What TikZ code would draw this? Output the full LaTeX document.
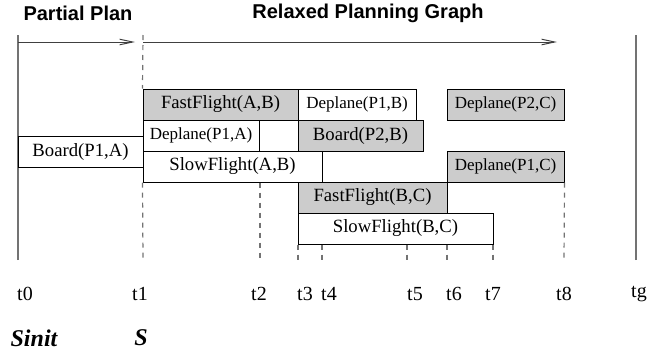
\documentclass[tikz,border=0pt]{standalone}
\usepackage{fontspec}
\setmainfont{Liberation Serif}
\setsansfont{Liberation Sans}
\usepackage{tikz}
\usetikzlibrary{arrows.meta}
\definecolor{actgray}{rgb}{.8,.8,.8}
\definecolor{linegray}{rgb}{.45,.45,.45}

\begin{document}
\begin{tikzpicture}[x=0.5pt,y=-0.5pt,>={Straight Barb[length=6.5pt,width=2.8pt]},
    act/.style={draw,line width=0.5pt,inner sep=0pt,minimum height=15.5pt,font=\fontsize{9.35}{11}\selectfont},
    actgrey/.style={act,fill=actgray},
    actwhite/.style={act,fill=white},
    small/.style={font=\fontsize{8.5}{10}\selectfont},
    timeline/.style={linegray,line width=0.7pt},
    timetick/.style={linegray,line width=0.6pt,dash pattern=on 2.5pt off 2.5pt},
    timelbl/.style={font=\fontsize{10}{12}\selectfont},
    title/.style={font=\sffamily\bfseries\fontsize{10}{12}\selectfont},
    state/.style={font=\bfseries\itshape\fontsize{12}{14}\selectfont}]
    \useasboundingbox (0,0) rectangle (647,354);

    % time points
    \coordinate (top) at (0,35);
    \coordinate (arr) at (0,42);
    \foreach \t/\x in {0/18,1/143,2/260,3/298,4/322,5/407,6/447,7/493,8/564,g/636}
        \coordinate (t\t) at (\x,260);

    % titles
    \node[title] (pplan) at (78,13) {Partial Plan};
    \node[title] (rgraph) at (368,13) {Relaxed Planning Graph};

    % the two spans
    \draw[timeline] (t0) -- (t0 |- top);
    \draw[timeline] (tg) -- (tg |- top);
    \draw[->,black!75,line width=0.5pt] (t0 |- arr) -- ([xshift=-4pt]t1 |- arr);
    \draw[->,black!75,line width=0.5pt] (t1 |- arr) -- ([xshift=-3.5pt]t8 |- arr);

    % the actions
    \node[actwhite,minimum width=62.5pt] (bp1a) at (80.5,151.5) {Board(P1,A)};
    \node[actgrey,minimum width=77.5pt] (ffab) at (220.5,104.5) {FastFlight(A,B)};
    \node[actwhite,small,minimum width=59pt] (dp1b) at (357,104.5) {Deplane(P1,B)};
    \node[actgrey,small,minimum width=58.5pt] (dp2c) at (505.5,104.5) {Deplane(P2,C)};
    \node[actwhite,small,minimum width=58pt] (dp1a) at (201,135.5) {Deplane(P1,A)};
    \node[actgrey,minimum width=62.5pt] (bp2b) at (360.5,135.5) {Board(P2,B)};
    \node[actwhite,minimum width=89.5pt] (sfab) at (232.5,166.5) {SlowFlight(A,B)};
    \node[actgrey,small,minimum width=58.5pt] (dp1c) at (505.5,166.5) {Deplane(P1,C)};
    \node[actgrey,minimum width=74.5pt] (ffbc) at (372.5,197.5) {FastFlight(B,C)};
    \node[actwhite,minimum width=97.5pt] (sfbc) at (395.5,228.5) {SlowFlight(B,C)};

    % dashed ticks
    \draw[timetick] (t1 |- top) -- (ffab.north west);
    \draw[timetick] (sfab.south west) -- (t1);
    \draw[timetick] (t2 |- sfab.south) -- (t2);
    \draw[timetick] (dp1c.south east) -- (t8);
    \foreach \t in {3,4,5,6,7}
        \draw[timetick] (t\t |- sfbc.south) -- (t\t);

    % time labels
    \foreach \t/\x in {0/25,1/140,2/259,3/305,4/329,5/415,6/454,7/493,8/564,g/639}
        \node[timelbl] (l\t) at (\x,294) {t\t};

    % states
    \node[state] (sinit) at (34,338) {Sinit};
    \node[state] (snow) at (141,338) {S};
\end{tikzpicture}
\end{document}
